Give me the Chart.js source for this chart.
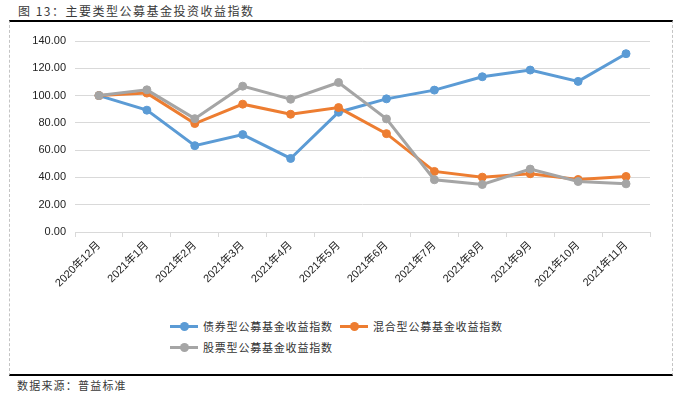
<!DOCTYPE html>
<html>
<head>
<meta charset="utf-8">
<script src="https://cdn.jsdelivr.net/npm/chart.js@4"></script>
<style>
  html, body { margin: 0; padding: 0; background: #fff; }
  body { width: 685px; height: 397px; position: relative; overflow: hidden; font-family: "Noto Sans CJK SC", sans-serif; color: #333; }
  .title { position: absolute; left: 18px; top: 2px; font-size: 12px; letter-spacing: 1.5px; color: #3a3a3a; }
  .frame { position: absolute; left: 9px; top: 20px; width: 662px; height: 352px; border-top: 2px solid #000; border-bottom: 2px solid #000; border-left: 1px dashed #c4c4c4; border-right: 1px dashed #c4c4c4; }
  .wrap { position: absolute; left: 0; top: 0; width: 685px; height: 310px; }
  .legend { position: absolute; font-size: 11px; letter-spacing: 0.8px; color: #333; }
  .legend .item { position: absolute; white-space: nowrap; line-height: 14px; }
  .legend .sw { position: absolute; left: 0; top: 6px; width: 28px; height: 3px; }
  .legend .sw i { position: absolute; left: 10px; top: -3px; width: 9px; height: 9px; border-radius: 50%; }
  .legend .tx { position: absolute; left: 33px; top: 0; }
  .source { position: absolute; left: 17px; top: 377px; font-size: 11px; letter-spacing: 1.2px; color: #3a3a3a; }
</style>
</head>
<body>
<div class="title">图 13：主要类型公募基金投资收益指数</div>
<div class="frame"></div>
<div class="wrap"><canvas id="c"></canvas></div>
<div class="legend" id="legend"></div>
<div class="source">数据来源：普益标准</div>
<script>
const months = ["2020年12月", "2021年1月", "2021年2月", "2021年3月", "2021年4月", "2021年5月",
  "2021年6月", "2021年7月", "2021年8月", "2021年9月", "2021年10月", "2021年11月"];
const bondIndex = [100, 89.3, 63.3, 71.4, 53.9, 87.8, 97.6, 104.0, 113.8, 118.7, 110.4, 130.7];
const mixedIndex = [100, 101.8, 79.5, 93.7, 86.3, 91.2, 72.1, 44.4, 40.2, 42.7, 38.5, 40.7];
const stockIndex = [100, 104.2, 83.1, 106.9, 97.3, 109.6, 82.9, 38.3, 34.8, 46.1, 37.0, 35.3];
const seriesNames = ["债券型公募基金收益指数", "混合型公募基金收益指数", "股票型公募基金收益指数"];
const seriesColors = ["#5B9BD5", "#ED7D31", "#A5A5A5"];
const yTicks = [0, 20, 40, 60, 80, 100, 120, 140];

const allData = [bondIndex, mixedIndex, stockIndex];
const datasets = allData.map((d, i) => ({
  label: seriesNames[i],
  data: d,
  borderColor: seriesColors[i],
  backgroundColor: seriesColors[i],
  borderWidth: 3,
  pointRadius: 4,
  pointBorderWidth: 1,
  pointHoverRadius: 4,
  tension: 0,
  order: 2 - i,
}));

const tickFont = { family: "Arial, 'Liberation Sans', 'Noto Sans CJK SC', sans-serif", size: 11 };

new Chart(document.getElementById("c"), {
  type: "line",
  data: { labels: months, datasets },
  options: {
    responsive: true,
    maintainAspectRatio: false,
    animation: false,
    layout: { padding: { top: 41, right: 35, left: 0, bottom: 0 } },
    plugins: { legend: { display: false }, tooltip: { enabled: false } },
    scales: {
      x: {
        offset: true,
        grid: { display: true, drawOnChartArea: false, color: "#d9d9d9", tickLength: 5, offset: true },
        border: { color: "#d9d9d9" },
        ticks: { color: "#222", font: tickFont, minRotation: 45, maxRotation: 45, padding: 2, autoSkip: false },
        afterFit: (s) => { s.height = 78; },
      },
      y: {
        min: 0, max: 140,
        afterBuildTicks: (s) => { s.ticks = yTicks.map((v) => ({ value: v })); },
        grid: { color: "#d9d9d9", drawTicks: false },
        border: { display: false },
        ticks: { color: "#222", font: tickFont, padding: 9, callback: (v) => Number(v).toFixed(2) },
        afterFit: (s) => { s.width = 75; },
      },
    },
  },
});

// legend in two rows like the original
const legendPos = [[170, 319], [340, 319], [170, 340]];
document.getElementById("legend").innerHTML = seriesNames.map((n, i) =>
  `<div class="item" style="left:${legendPos[i][0]}px;top:${legendPos[i][1]}px">
     <span class="sw" style="background:${seriesColors[i]}"><i style="background:${seriesColors[i]}"></i></span>
     <span class="tx">${n}</span></div>`).join("");
</script>
</body>
</html>
